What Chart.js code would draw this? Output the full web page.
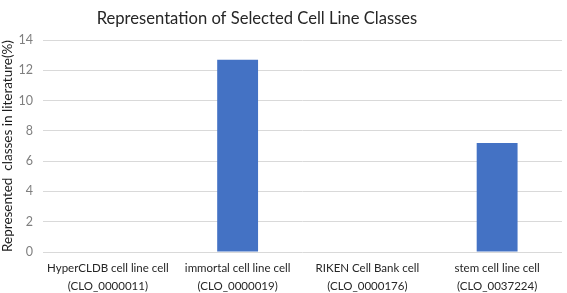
<!DOCTYPE html>
<html><head><meta charset="utf-8">
<script src="https://cdn.jsdelivr.net/npm/chart.js@4.4.0/dist/chart.umd.min.js"></script>
<style>html,body{margin:0;padding:0;background:#fff}#w{width:567px;height:293px}</style>
</head><body><div id="w"><canvas id="c" width="567" height="293"></canvas></div>
<script>
const categories = [["HyperCLDB cell line cell","(CLO_0000011)"],["immortal cell line cell","(CLO_0000019)"],["RIKEN Cell Bank cell","(CLO_0000176)"],["stem cell line cell","(CLO_0037224)"]];
const values = [0, 12.7, 0, 7.2];
const yTicks = [0,2,4,6,8,10,12,14];
const titleText = "Representation of Selected Cell Line Classes";
const yTitle = "Represented  classes in literature(%)";
const FONT = 'Lato, "Open Sans", sans-serif';

const titlePlugin = {
  id:'ttl',
  afterDraw(chart){
    const ctx = chart.ctx;
    ctx.save();
    ctx.font = '16.6px ' + FONT;
    ctx.fillStyle = '#262626';
    ctx.textAlign = 'center';
    ctx.textBaseline = 'middle';
    ctx.fillText(titleText, 257, 19);
    ctx.restore();
  }
};

new Chart(document.getElementById('c'), {
  type:'bar',
  data:{labels:categories, datasets:[{data:values, backgroundColor:'#4472C4', borderWidth:0, categoryPercentage:1, barPercentage:0.315}]},
  plugins:[titlePlugin],
  options:{
    responsive:false, animation:false, devicePixelRatio:1,
    layout:{padding:{left:0,right:5,top:40,bottom:0}},
    plugins:{legend:{display:false}, tooltip:{enabled:false}},
    scales:{
      x:{
        grid:{display:false}, border:{display:false},
        ticks:{color:'#262626', font:{family:FONT, size:11.5, lineHeight:1.5}, maxRotation:0, autoSkip:false, padding:0},
        afterFit(s){s.height=41;}
      },
      y:{
        min:0,max:14,
        afterBuildTicks(s){s.ticks = yTicks.map(v=>({value:v}));},
        grid:{color:'#d9d9d9', drawTicks:false, lineWidth:1},
        border:{display:false},
        ticks:{color:'#7f7f7f', font:{family:FONT, size:12.5}, padding:10},
        title:{display:true, text:yTitle, color:'#1a1a1a', font:{family:FONT, size:13.5, weight:'normal'}, padding:{top:0,bottom:2}},
        afterFit(s){s.width=43;}
      }
    }
  }
});
</script></body></html>
